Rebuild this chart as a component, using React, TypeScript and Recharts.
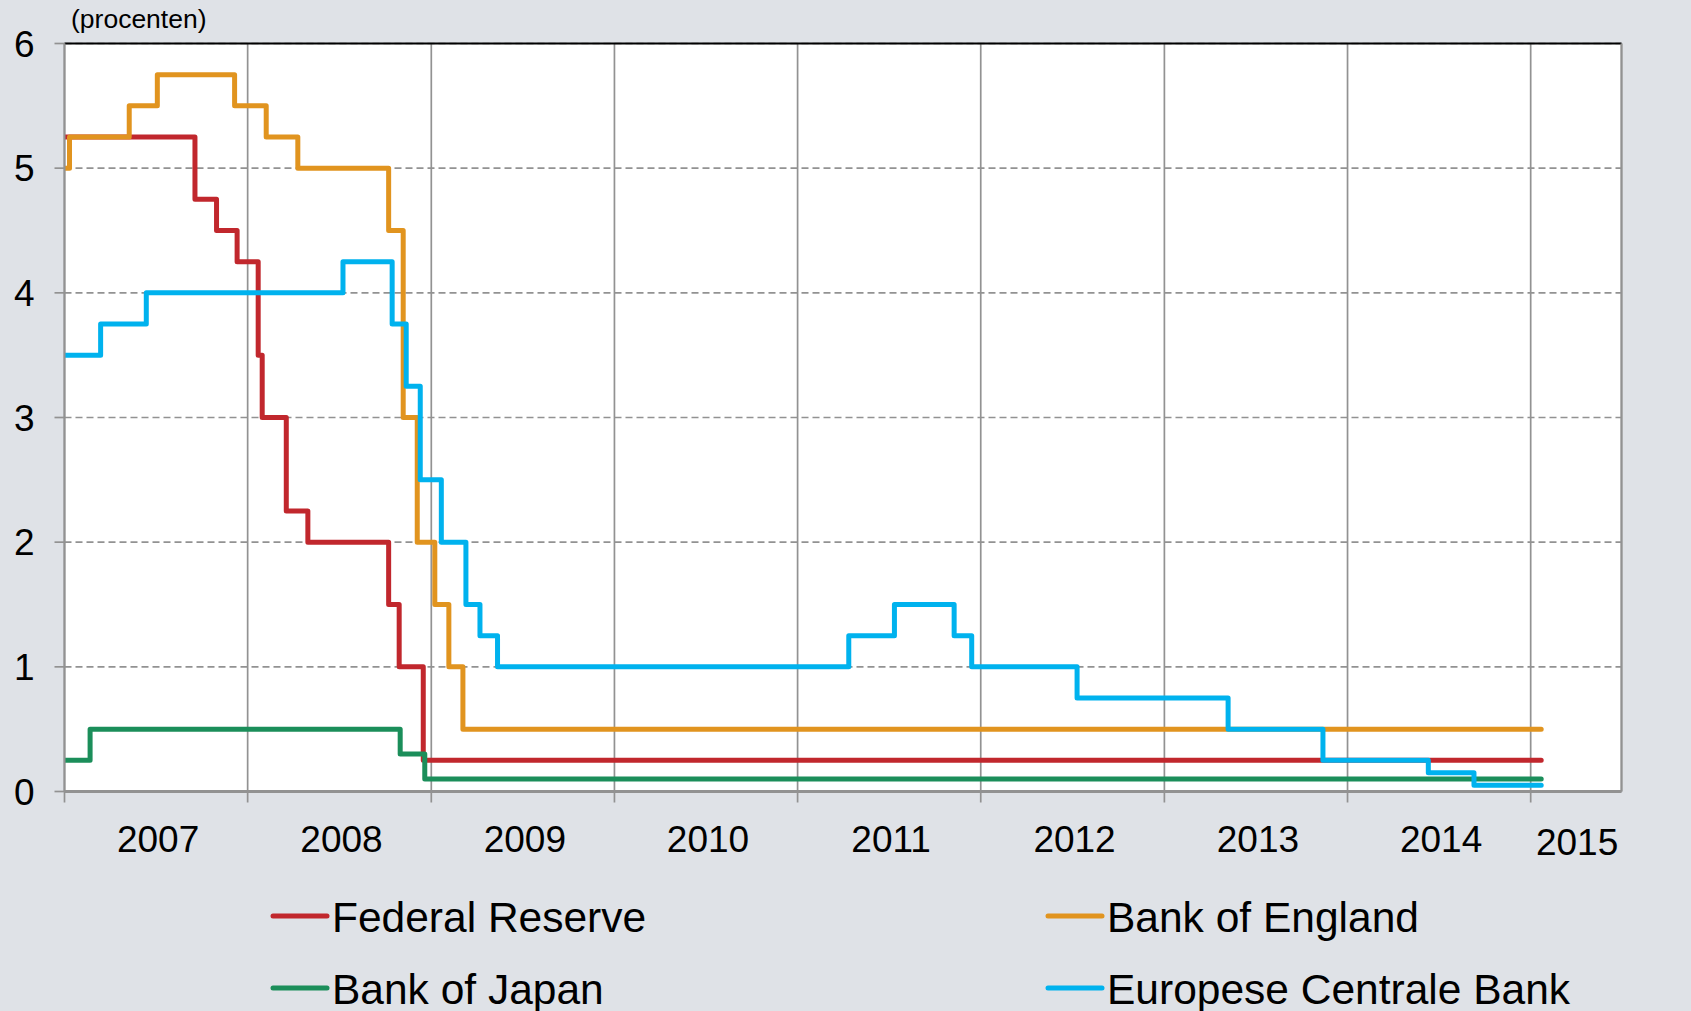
import React from 'react';
import { LineChart, Line, XAxis, YAxis, CartesianGrid, ReferenceLine } from 'recharts';

// ---- data ----
const fedDates = ['2007-01-01', '2007-09-18', '2007-10-31', '2007-12-11', '2008-01-22', '2008-01-30', '2008-03-18', '2008-04-30', '2008-10-08', '2008-10-29', '2008-12-16', '2015-01-22'];
const fedRates = [5.25, 4.75, 4.5, 4.25, 3.5, 3.0, 2.25, 2.0, 1.5, 1.0, 0.25, 0.25];

const boeDates = ['2007-01-01', '2007-01-11', '2007-05-10', '2007-07-05', '2007-12-06', '2008-02-07', '2008-04-10', '2008-10-08', '2008-11-06', '2008-12-04', '2009-01-08', '2009-02-05', '2009-03-05', '2015-01-22'];
const boeRates = [5.0, 5.25, 5.5, 5.75, 5.5, 5.25, 5.0, 4.5, 3.0, 2.0, 1.5, 1.0, 0.5, 0.5];

const bojDates = ['2007-01-01', '2007-02-21', '2008-10-31', '2008-12-19', '2015-01-22'];
const bojRates = [0.25, 0.5, 0.3, 0.1, 0.1];

const ecbDates = ['2007-01-01', '2007-03-14', '2007-06-13', '2008-07-09', '2008-10-15', '2008-11-12', '2008-12-10', '2009-01-21', '2009-03-11', '2009-04-08', '2009-05-13', '2011-04-13', '2011-07-13', '2011-11-09', '2011-12-14', '2012-07-11', '2013-05-08', '2013-11-13', '2014-06-11', '2014-09-10', '2015-01-22'];
const ecbRates = [3.5, 3.75, 4.0, 4.25, 3.75, 3.25, 2.5, 2.0, 1.5, 1.25, 1.0, 1.25, 1.5, 1.25, 1.0, 0.75, 0.5, 0.25, 0.15, 0.05, 0.05];

const seriesNames = ['Federal Reserve', 'Bank of England', 'Bank of Japan', 'Europese Centrale Bank'];
const seriesColors = ['#C1272D', '#E1941F', '#1B8E5A', '#00B2EE'];

const yearBoundaries = ['2007-01-01', '2008-01-01', '2009-01-01', '2010-01-01', '2011-01-01', '2012-01-01', '2013-01-01', '2014-01-01', '2015-01-01'];
const axisEndDate = '2015-07-01';
const yearLabels = ['2007', '2008', '2009', '2010', '2011', '2012', '2013', '2014', '2015'];
const yTicks = [0, 1, 2, 3, 4, 5, 6];
const unitLabel = '(procenten)';

// ---- helpers ----
const dayNum = (s: string) => {
  const [y, m, d] = s.split('-').map(Number);
  return (Date.UTC(y, m - 1, d) - Date.UTC(2007, 0, 1)) / 86400000;
};
const build = (dates: string[], vals: number[]) => dates.map((d, i) => ({ x: dayNum(d), v: vals[i] }));

const series = [
  build(fedDates, fedRates),
  build(boeDates, boeRates),
  build(bojDates, bojRates),
  build(ecbDates, ecbRates),
];

const boundaryTicks = yearBoundaries.map(dayNum);
const axisEnd = dayNum(axisEndDate);
const labelTicks = boundaryTicks.map((b, i) => (b + (i + 1 < boundaryTicks.length ? boundaryTicks[i + 1] : axisEnd)) / 2);
const labelAnchorData = labelTicks.map((x) => ({ x, v: null as number | null }));

const FONT = '"Liberation Sans", Arial, Helvetica, sans-serif';
const BG = '#DFE2E7';
const GRID = '#929292';

const EmptyTick = () => <g />;

const YearTick = (props: any) => {
  const { x, y, index } = props;
  const last = index === yearLabels.length - 1;
  return (
    <text x={x + (last ? 1 : 2)} y={y + 48.5 + (last ? 2.5 : 0)} textAnchor="middle" fontSize={37} fill="#000" fontFamily={FONT}>
      {yearLabels[index]}
    </text>
  );
};

export default function App() {
  const W = 1691;
  const H = 1011;
  return (
    <div style={{ position: 'absolute', left: 0, top: 0, width: W, height: H, background: BG, overflow: 'hidden' }}>
      <LineChart width={W} height={H} margin={{ top: 43.5, right: 0, bottom: 147.5, left: 0 }}>
        <CartesianGrid xAxisId="grid" yAxisId="left" horizontal={false} vertical={true} stroke={GRID} strokeWidth={1.7} fill="#FFFFFF" />
        <CartesianGrid xAxisId="grid" yAxisId="left" horizontal={true} vertical={false} stroke={GRID} strokeWidth={1.7} strokeDasharray="7 4" />
        <ReferenceLine xAxisId="grid" yAxisId="left" y={6} stroke="#000" strokeWidth={2} />
        <XAxis
          xAxisId="grid"
          type="number"
          dataKey="x"
          domain={[0, axisEnd]}
          ticks={boundaryTicks}
          interval={0}
          allowDataOverflow
          tick={<EmptyTick />}
          tickSize={11}
          tickMargin={0}
          height={12}
          axisLine={{ stroke: GRID, strokeWidth: 3 }}
          tickLine={{ stroke: GRID, strokeWidth: 1.7 }}
        />
        <XAxis
          xAxisId="lab"
          type="number"
          dataKey="x"
          domain={[0, axisEnd]}
          ticks={labelTicks}
          allowDataOverflow
          interval={0}
          axisLine={false}
          tickLine={false}
          tickSize={0}
          tickMargin={0}
          height={60}
          tick={<YearTick />}
        />
        <YAxis
          yAxisId="left"
          orientation="left"
          domain={[0, 6]}
          ticks={yTicks}
          interval={0}
          width={64.5}
          tickSize={10}
          tickMargin={20}
          axisLine={{ stroke: GRID, strokeWidth: 2 }}
          tickLine={{ stroke: GRID, strokeWidth: 1.7 }}
          tick={{ fontSize: 37, fill: '#000', fontFamily: FONT }}
        />
        <YAxis
          yAxisId="right"
          orientation="right"
          domain={[0, 6]}
          ticks={yTicks}
          interval={0}
          width={69.5}
          tickSize={10}
          tickMargin={20}
          axisLine={{ stroke: GRID, strokeWidth: 2 }}
          tickLine={{ stroke: GRID, strokeWidth: 1.7 }}
          tick={{ fontSize: 37, fill: '#000', fontFamily: FONT }}
        />
        <Line
          data={labelAnchorData}
          xAxisId="lab"
          yAxisId="left"
          dataKey="v"
          stroke="none"
          dot={false}
          activeDot={false}
          legendType="none"
          isAnimationActive={false}
        />
        {series.map((data, i) => (
          <Line
            key={seriesNames[i]}
            data={data}
            xAxisId="grid"
            yAxisId="left"
            dataKey="v"
            name={seriesNames[i]}
            type="stepAfter"
            stroke={seriesColors[i]}
            strokeWidth={5}
            strokeLinecap="round"
            strokeLinejoin="round"
            dot={false}
            activeDot={false}
            isAnimationActive={false}
          />
        ))}
      </LineChart>
      <svg width={W} height={H} style={{ position: 'absolute', left: 0, top: 0, pointerEvents: 'none' }}>
        <text x={71} y={28} fontSize={26.5} fill="#000" fontFamily={FONT}>{unitLabel}</text>
        {seriesNames.map((name, i) => {
          const col = i % 2;
          const row = Math.floor(i / 2);
          const sx = col === 0 ? 273 : 1048;
          const cy = row === 0 ? 916 : 988;
          return (
            <g key={name}>
              <line x1={sx} x2={sx + 54} y1={cy} y2={cy} stroke={seriesColors[i]} strokeWidth={5} strokeLinecap="round" />
              <text x={sx + 59} y={cy + 15.5} fontSize={42.5} fill="#000" fontFamily={FONT}>{name}</text>
            </g>
          );
        })}
      </svg>
    </div>
  );
}
